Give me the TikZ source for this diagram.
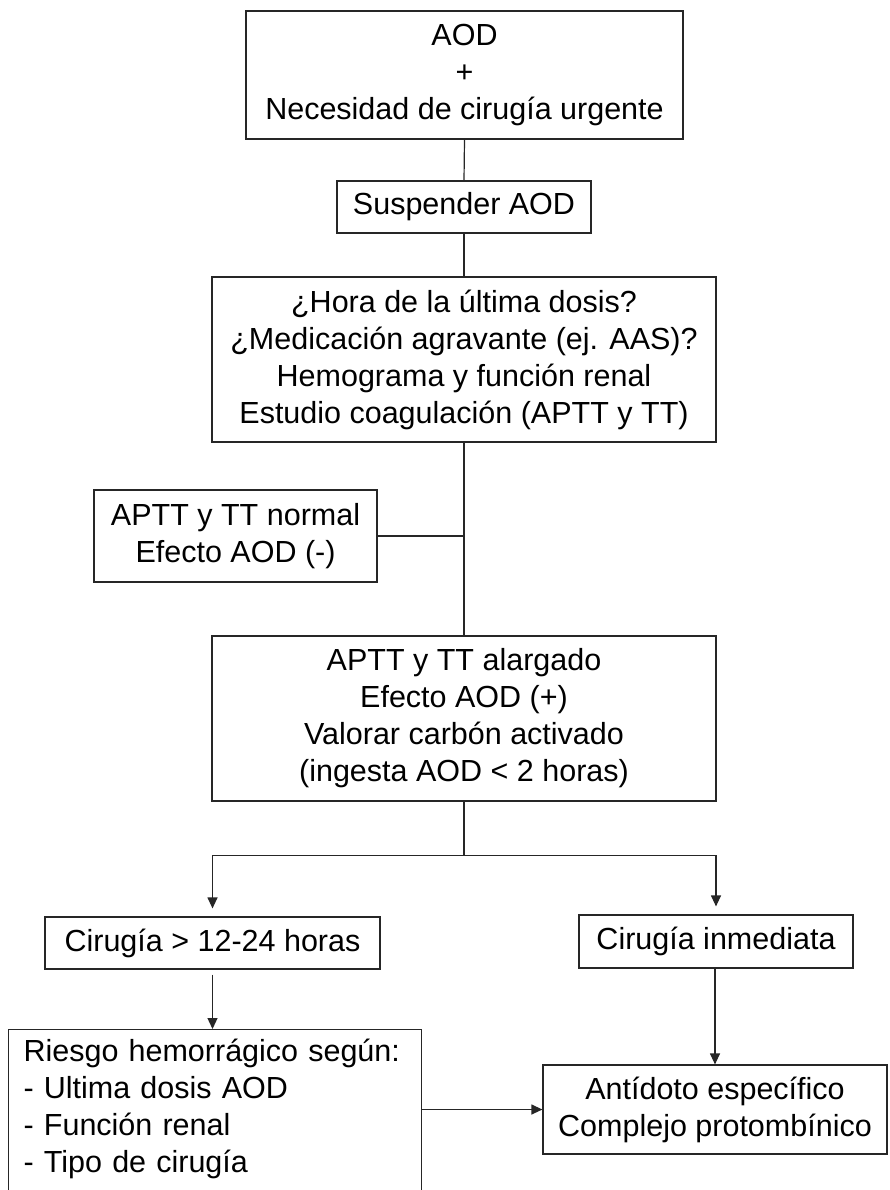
\documentclass[tikz,border=0pt]{standalone}
\usepackage{fontspec}
\setmainfont{Liberation Sans}
\usetikzlibrary{arrows.meta}
\begin{document}
\begin{tikzpicture}[x=1pt,y=-1pt,
  every node/.style={font=\fontsize{30.5}{37}\selectfont},
  box/.style={draw=black!85, line width=1.2pt, align=center, inner sep=0pt},
  link/.style={draw=black!85, line width=1.2pt},
  arr/.style={link, -{Triangle[width=10pt,length=11pt]}}
]
\fill[white] (0,0) rectangle (890,1190);
\useasboundingbox (0,0) rectangle (890,1190);
\clip (0,0) rectangle (890,1190);

% main column
\node[box, minimum width=437pt, minimum height=128pt] (b1) at (464.5,75)
  {AOD\\+\\Necesidad de cirugía urgente};
\node[box, minimum width=254pt, minimum height=52pt] (b2) at (464,207)
  {Suspender AOD};
\node[box, minimum width=504pt, minimum height=165pt] (b3) at (464,359.5)
  {¿Hora de la última dosis?\\¿Medicación agravante (ej. AAS)?\\Hemograma y función renal\\Estudio coagulación (APTT y TT)};
\node[box, minimum width=283pt, minimum height=92pt] (b4) at (235.5,536)
  {APTT y TT normal\\Efecto AOD (-)};
\node[box, minimum width=504pt, minimum height=165pt] (b5) at (464,718.5)
  {APTT y TT alargado\\Efecto AOD (+)\\Valorar carbón activado\\(ingesta AOD < 2 horas)};

% branches
\node[box, minimum width=335pt, minimum height=52pt] (b6) at (212.5,943)
  {Cirugía > 12-24 horas};
\node[box, minimum width=274pt, minimum height=53pt] (b7) at (716,941.5)
  {Cirugía inmediata};
% this box runs past the lower edge of the page
\node[box, anchor=north west, text width=383pt, align=left,
      inner xsep=15pt, inner ysep=9pt] (b8) at (8,1029)
  {Riesgo hemorrágico según:\\- Ultima dosis AOD\\- Función renal\\- Tipo de cirugía\\[40pt]\mbox{}};
\node[box, minimum width=344pt, minimum height=89pt] (b9) at (715,1109.5)
  {Antídoto específico\\Complejo protombínico};

% connectors
\draw[link] (b1.south) -- (b2.north);
\draw[link] (b2.south) -- (b3.north);
\draw[link] (b3.south) -- (b5.north);
\draw[link] (b4.east) -- (b4.east -| b3.south);
\draw[link] (b5.south) -- ++(0,54) coordinate (split);
\draw[arr, shorten >=8pt] (split) -| (b6.north);
\draw[arr, shorten >=8pt] (split) -| (b7.north);
\draw[arr, shorten <=5pt] (b6.south) -- (b6.south |- b8.north);
\draw[arr] (b7.south -| b9.north) -- (b9.north);
\draw[arr] (b9.west -| b8.east) -- (b9.west);
\end{tikzpicture}
\end{document}
